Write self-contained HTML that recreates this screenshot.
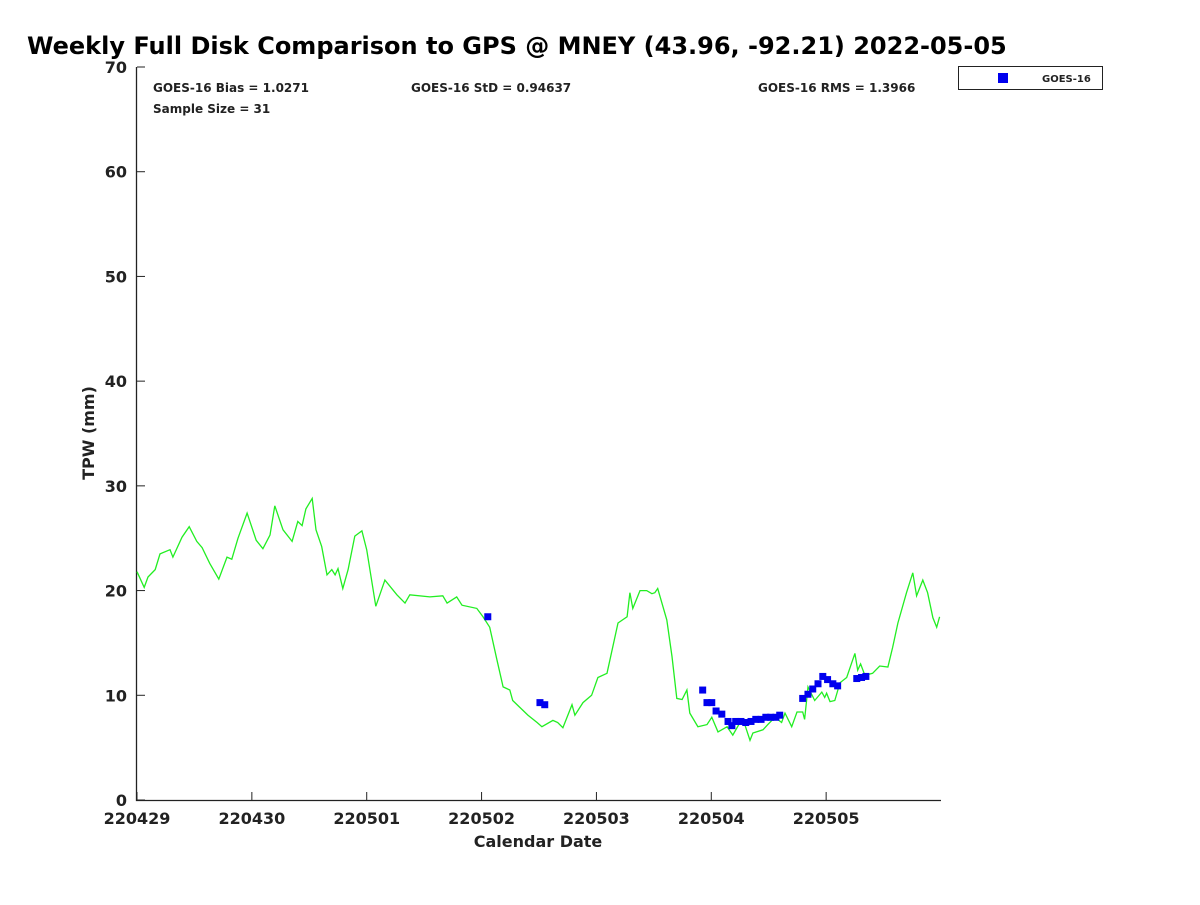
<!DOCTYPE html>
<html><head><meta charset="utf-8"><style>
body{margin:0;background:#fff;font-family:"Liberation Sans","DejaVu Sans",sans-serif}
svg text{font-family:"DejaVu Sans","Liberation Sans",sans-serif;font-weight:bold;fill:#222}
</style></head><body>
<svg id="chart" width="1200" height="900" xmlns="http://www.w3.org/2000/svg">
<rect width="1200" height="900" fill="#fff"/>
<text x="27" y="54" style="font-size:24px;fill:#000">Weekly Full Disk Comparison to GPS @ MNEY (43.96, -92.21) 2022-05-05</text>
<text x="153" y="92" style="font-size:12px">GOES-16 Bias = 1.0271</text>
<text x="153" y="113" style="font-size:12px">Sample Size = 31</text>
<text x="411" y="92" style="font-size:12px">GOES-16 StD = 0.94637</text>
<text x="758" y="92" style="font-size:12px">GOES-16 RMS = 1.3966</text>
<g>
<rect x="958.5" y="66.5" width="144" height="23" fill="#fff" stroke="#222"/>
<rect x="998" y="73" width="10" height="10" fill="#0000ee"/>
<text x="1042" y="82" style="font-size:10px">GOES-16</text>
</g>
<text transform="translate(94,433) rotate(-90)" text-anchor="middle" style="font-size:16px">TPW (mm)</text>
<text x="538" y="847" text-anchor="middle" style="font-size:16px">Calendar Date</text>
<g id="axes"></g>
<g id="series"></g>
</svg>
<script>
const xTickLabels=["220429","220430","220501","220502","220503","220504","220505"];
const yTickValues=[0,10,20,30,40,50,60,70];
const gpsHours=[0,1.5,2.3,3.8,4.8,6.9,7.5,9.4,10.9,12.5,13.6,15.2,17.1,18.8,19.8,21.1,23.0,24.9,26.3,27.8,28.8,30.5,32.4,33.6,34.5,35.3,36.6,37.4,38.6,39.7,40.7,41.4,42.0,43.0,44.1,45.5,47.0,48.0,49.9,51.8,54.3,56.0,57.0,61.2,63.9,64.8,66.8,67.9,71.0,72.3,73.7,75.2,76.5,77.9,78.5,81.7,83.6,84.6,86.9,87.9,89.0,90.9,91.5,93.2,95.0,96.3,98.2,100.5,102.4,103.0,103.6,105.1,106.5,107.6,108.2,108.8,110.7,111.8,112.8,113.9,114.9,115.5,117.2,119.1,120.1,121.4,123.3,124.5,126.0,127.0,128.1,128.7,130.8,131.8,133.3,134.7,135.4,136.8,137.9,139.1,139.5,140.2,141.6,143.1,143.7,144.1,144.8,145.8,146.9,148.3,150.0,150.6,151.2,152.1,153.7,155.2,156.9,157.9,159.0,160.8,162.1,162.9,164.2,165.2,166.3,167.1,167.7];
const gpsTpw=[21.8,20.3,21.3,22.0,23.5,23.9,23.2,25.1,26.1,24.7,24.1,22.6,21.1,23.2,23.0,25.0,27.4,24.8,24.0,25.3,28.1,25.8,24.7,26.6,26.2,27.8,28.8,25.8,24.2,21.5,22.0,21.5,22.1,20.2,22.0,25.2,25.7,23.9,18.5,21.0,19.6,18.8,19.6,19.4,19.5,18.8,19.4,18.6,18.3,17.5,16.5,13.4,10.8,10.5,9.5,8.1,7.4,7.0,7.6,7.4,6.9,9.1,8.1,9.3,10.0,11.7,12.1,16.9,17.5,19.8,18.3,20.0,20.0,19.7,19.8,20.2,17.2,13.7,9.7,9.6,10.5,8.3,7.0,7.2,7.9,6.5,7.0,6.2,7.4,7.2,5.7,6.4,6.7,7.2,7.9,7.4,8.3,7.0,8.4,8.4,7.7,10.8,9.5,10.3,9.8,10.2,9.4,9.5,11.2,11.7,14.0,12.4,13.0,11.9,12.1,12.8,12.7,14.6,16.9,19.8,21.7,19.5,21.0,19.8,17.4,16.5,17.5];
const goesHours=[73.3,84.2,85.2,118.2,119.1,120.1,121.0,122.2,123.5,124.3,125.1,126.2,127.2,128.3,129.3,130.4,131.4,132.4,133.5,134.3,139.1,140.2,141.2,142.3,143.3,144.3,145.4,146.4,150.4,151.4,152.3];
const goesTpw=[17.5,9.3,9.1,10.5,9.3,9.3,8.5,8.2,7.5,7.1,7.5,7.5,7.4,7.5,7.7,7.7,7.9,7.9,7.9,8.1,9.7,10.1,10.6,11.1,11.8,11.5,11.1,10.9,11.6,11.7,11.8];
const X0=137,X1=941,Y0=800,Y1=67,HMAX=168,VMAX=70;
function xs(h){return X0+h*(X1-X0)/HMAX;}
function ys(v){return Y0-v*(Y0-Y1)/VMAX;}
const NS="http://www.w3.org/2000/svg";
const axes=document.getElementById('axes'),ser=document.getElementById('series');
function mk(tag,attrs,parent){const e=document.createElementNS(NS,tag);for(const k in attrs)e.setAttribute(k,attrs[k]);parent.appendChild(e);return e;}
let a=mk('path',{d:`M${X0-0.5},${Y1} V${Y0+0.5} H${X1}`,fill:'none',stroke:'#222','stroke-width':1.3},axes);


yTickValues.forEach(v=>{
  const y=ys(v);
  let t=mk('line',{x1:X0,x2:X0+8,y1:y,y2:y,stroke:'#222'},axes);
  
  
  let l=mk('text',{x:127,y:y+6,'text-anchor':'end',style:'font-size:16px'},axes);
  l.textContent=v;
  
  
});
xTickLabels.forEach((s,i)=>{
  const x=xs(i*24);
  let t=mk('line',{x1:x,x2:x,y1:Y0,y2:Y0-8,stroke:'#222'},axes);
  
  
  let l=mk('text',{x:x,y:824,'text-anchor':'middle',style:'font-size:16px'},axes);
  l.textContent=s;
  
  
});
let d=gpsHours.map((h,i)=>(i?'L':'M')+xs(h).toFixed(1)+','+ys(gpsTpw[i]).toFixed(1)).join(' ');
let line=mk('path',{d:d,fill:'none',stroke:'#22ee22','stroke-width':1.3},ser);


goesHours.forEach((h,i)=>{
  let r=mk('rect',{x:xs(h)-3.5,y:ys(goesTpw[i])-3.5,width:7,height:7,fill:'#0000ee'},ser);
  
  
});
</script>
</body></html>
